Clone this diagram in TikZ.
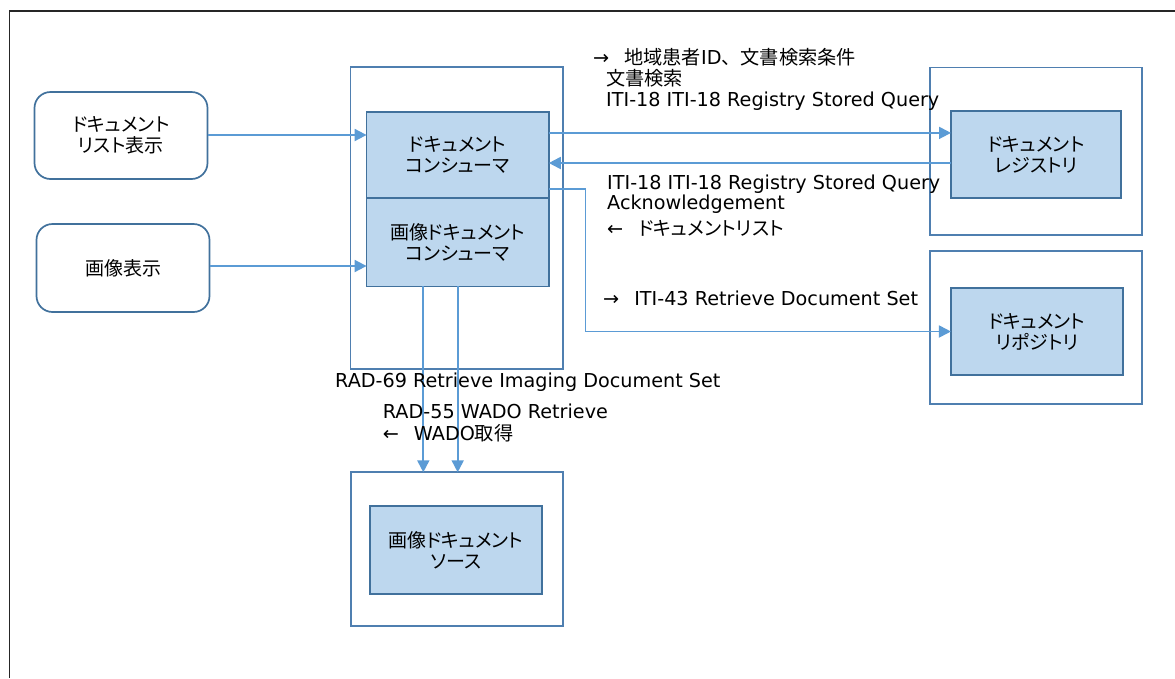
\documentclass[tikz,border=0pt]{standalone}
\usepackage{fontspec}
\setmainfont{DejaVu Sans}
\newfontfamily\ja[RawFeature=+palt]{Noto Sans CJK JP}
\newfontfamily\jb{Noto Sans CJK JP}
\usetikzlibrary{arrows.meta}
\definecolor{boxfill}{HTML}{BDD7EE}
\definecolor{boxline}{HTML}{41719C}
\definecolor{frameline}{HTML}{4F7FB0}
\definecolor{conn}{HTML}{5B9BD5}
\newcommand{\gap}{\hspace{15pt}}
\begin{document}
\begin{tikzpicture}[x=1pt,y=-1pt,
  frame/.style={draw=frameline,line width=1.7pt,fill=white,inner sep=0,outer sep=0},
  actor/.style={draw=boxline,line width=1.7pt,fill=boxfill,inner sep=0,outer sep=0,align=center,font=\ja\fontsize{19}{21}\selectfont},
  ui/.style={draw=boxline,line width=1.7pt,fill=white,rounded corners=16pt,inner sep=0,outer sep=0,align=center,font=\ja\fontsize{19}{21}\selectfont},
  arr/.style={draw=conn,line width=1.8pt,-{Triangle[length=12pt,width=12pt]}},
  lbl/.style={anchor=west,inner sep=0,font=\fontsize{19.2}{21}\selectfont}]
\useasboundingbox (0,0) rectangle (1175,678);
\draw[black!85,line width=1.6pt] (9.5,678) -- (9.5,11) -- (1175,11);
% outer frames
\node[frame,minimum width=212.5pt,minimum height=301.7pt] (cframe) at (456.7,218) {};
\node[frame,minimum width=212pt,minimum height=167.7pt] (rframe) at (1036,151.2) {};
\node[frame,minimum width=212pt,minimum height=153pt] (pframe) at (1036,327.5) {};
\node[frame,minimum width=212pt,minimum height=153.4pt] (sframe) at (456.7,549) {};
% ui boxes
\node[ui,minimum width=173pt,minimum height=87pt] (lst) at (121,135.5) {ドキュメント\\リスト表示};
\node[ui,minimum width=173pt,minimum height=88pt] (img) at (123,268) {画像表示};
% actors
\node[actor,minimum width=182.2pt,minimum height=86.3pt] (dc) at (457.7,154.9) {ドキュメント\\コンシューマ};
\node[actor,minimum width=182.2pt,minimum height=88.3pt] (ic) at (457.7,242.2) {画像ドキュメント\\コンシューマ};
\node[actor,minimum width=170pt,minimum height=87pt] (reg) at (1036,154.5) {ドキュメント\\レジストリ};
\node[actor,minimum width=171.7pt,minimum height=87pt] (rep) at (1036.8,331.5) {ドキュメント\\リポジトリ};
\node[actor,minimum width=171.7pt,minimum height=88.3pt] (src) at (455.8,549.8) {画像ドキュメント\\ソース};
% connectors
\draw[arr] ([yshift=0.5pt]lst.east) -- ([yshift=0.5pt]lst.east -| dc.west);
\draw[arr] ([yshift=2pt]img.east) -- ([yshift=2pt]img.east -| ic.west);
\draw[arr] ([yshift=22pt]dc.east) -- ([yshift=22pt]dc.east -| reg.west);
\draw[arr] ([yshift=-8.5pt]reg.west) -- ([yshift=-8.5pt]reg.west -| dc.east);
\draw[arr] ([yshift=-34.1pt]dc.east) -- ++(36.7,0) |- (rep.west);
\draw[arr] ([xshift=-34.4pt]ic.south) -- ([xshift=-34.4pt]ic.south |- sframe.north);
\draw[arr] (ic.south) -- (ic.south |- sframe.north);
% labels
\node[lbl] (l1) at (593,57) {→\gap{\jb 地域患者}ID{\jb 、文書検索条件}};
\node[lbl] (l2) at (606,78) {\jb 文書検索};
\node[lbl] (l3) at (606,100.7) {ITI-18 ITI-18 Registry Stored Query};
\node[lbl] (l4) at (607,184) {ITI-18 ITI-18 Registry Stored Query};
\node[lbl] (l5) at (607,204) {Acknowledgement};
\node[lbl] (l6) at (607,228) {←\gap{\ja ドキュメントリスト}};
\node[lbl] (l7) at (603,298) {→\gap ITI-43 Retrieve Document Set};
\node[lbl] (l8) at (335,381.7) {RAD-69 Retrieve Imaging Document Set};
\node[lbl] (l9) at (382.7,411.7) {RAD-55 WADO Retrieve};
\node[lbl] (l10) at (382.7,433) {←\gap WADO{\jb 取得}};
\end{tikzpicture}
\end{document}
